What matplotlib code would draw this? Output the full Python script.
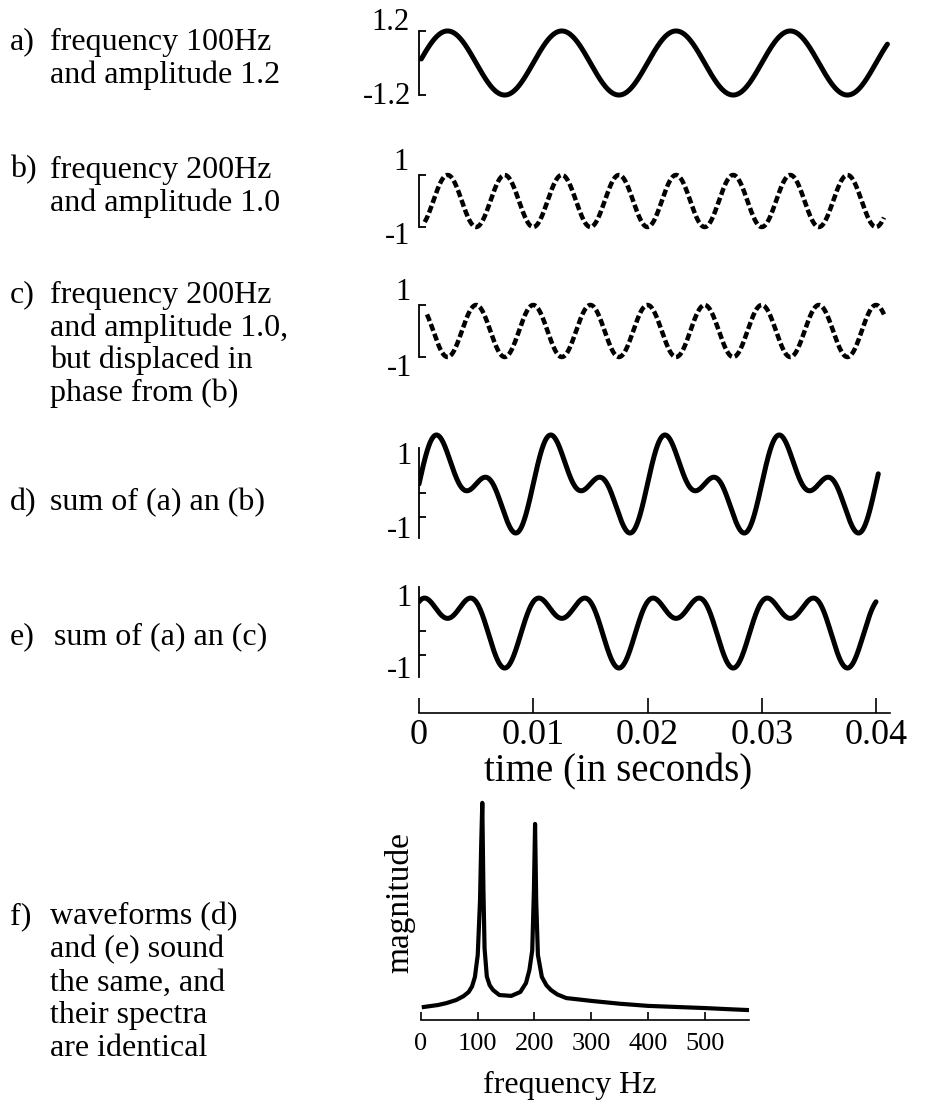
import numpy as np
import matplotlib.pyplot as plt

plt.rcParams['font.family'] = ['Liberation Serif', 'DejaVu Serif']

# ---------------- data ----------------
# each waveform panel: list of sinusoid components (frequency Hz, amplitude, phase deg)
wave_a = [(100, 1.2, 0)]
wave_b = [(200, 1.0, -90)]
wave_c = [(200, 1.0, 90)]
wave_d = [(100, 1.2, 0), (200, 1.0, 0)]
wave_e = [(100, 1.2, 0), (200, 1.0, 90)]
waves = [wave_a, wave_b, wave_c, wave_d, wave_e]

# time span drawn in each panel (s)
t_start = [0.0002, 0.0005, 0.0007, 0.0, 0.0]
t_end = [0.0410, 0.0407, 0.0407, 0.0402, 0.0400]

time_ticks = [0, 0.01, 0.02, 0.03, 0.04]
time_ticklabels = ['0', '0.01', '0.02', '0.03', '0.04']

# spectrum of (d)/(e), magnitude normalised to the 100 Hz peak
spec_freq = [5, 30, 45, 62, 75, 84, 90, 95, 100, 104, 106, 108, 110, 112, 116, 121, 127,
             138, 159, 175, 185, 191, 196, 199, 201, 203, 206, 213, 221, 229, 240, 256,
             280, 300, 350, 400, 450, 500, 540, 575]
spec_mag = [0.060, 0.069, 0.078, 0.092, 0.110, 0.129, 0.155, 0.198, 0.300, 0.550, 0.800,
            1.000, 0.600, 0.330, 0.200, 0.160, 0.138, 0.115, 0.111, 0.129, 0.170, 0.230,
            0.320, 0.600, 0.903, 0.550, 0.300, 0.198, 0.160, 0.138, 0.118, 0.101, 0.094,
            0.088, 0.075, 0.065, 0.060, 0.055, 0.050, 0.046]
freq_ticks = [0, 100, 200, 300, 400, 500]

letters = ['a)', 'b)', 'c)', 'd)', 'e)', 'f)']
captions = [
    ['frequency 100Hz', 'and amplitude 1.2'],
    ['frequency 200Hz', 'and amplitude 1.0'],
    ['frequency 200Hz', 'and amplitude 1.0,', 'but displaced in', 'phase from (b)'],
    ['sum of (a) an (b)'],
    ['sum of (a) an (c)'],
    ['waveforms (d)', 'and (e) sound', 'the same, and', 'their spectra', 'are identical'],
]

# ---------------- layout (pixels) ----------------
W, H = 939, 1113
fig = plt.figure(figsize=(W / 100, H / 100), dpi=100)


def px_axes(left, top, width, height):
    return fig.add_axes([left / W, 1 - (top + height) / H, width / W, height / H])


def px_text(x, y, s, **kw):
    return fig.text(x / W, 1 - y / H, s, **kw)


T0_PX = 419
PX_PER_S = 11425
TMAX = 0.0415

# zero line (px), px per unit, y half-range
panel_geom = [(63, 26.7, 1.5), (201, 26, 1.3), (331, 26, 1.3), (484, 25.5, 2.3), (622.5, 20.7, 2.8)]
# left axis: (lower bound, upper bound, tick values)
panel_axis = [(-1.2, 1.2, [-1.2, 1.2]), (-1, 1, [-1, 1]), (-1, 1, [-1, 1]),
              (-2.12, 1.41, [-0.35, -1.29]), (-2.63, 1.71, [-0.41, -1.57])]
# y-axis labels: (text, right x px, centre y px)
panel_labels = [[('1.2', 410, 22), ('-1.2', 411, 96)],
                [('1', 409, 162), ('-1', 410, 236)],
                [('1', 411, 292), ('-1', 412, 368)],
                [('1', 412, 457), ('-1', 412, 530)],
                [('1', 412, 598), ('-1', 412, 670)]]

LW = 3.6
for i, comps in enumerate(waves):
    y0, s, hr = panel_geom[i]
    ax = px_axes(T0_PX, y0 - hr * s, TMAX * PX_PER_S, 2 * hr * s)
    t = np.linspace(t_start[i], t_end[i], 3000)
    y = np.zeros_like(t)
    for f, a, ph in comps:
        y += a * np.sin(2 * np.pi * f * t + np.deg2rad(ph))
    if i in (1, 2):
        ax.plot(t, y, color='black', lw=LW * 0.9, linestyle=(0, (1.6, 0.7)),
                solid_capstyle='butt', dash_capstyle='butt')
    else:
        ax.plot(t, y, color='black', lw=LW, solid_capstyle='round')
    ax.set_xlim(0, TMAX)
    ax.set_ylim(-hr, hr)
    for sp in ['top', 'right', 'bottom']:
        ax.spines[sp].set_visible(False)
    lo, hi, ticks = panel_axis[i]
    ax.spines['left'].set_bounds(lo, hi)
    ax.spines['left'].set_linewidth(1.3)
    ax.set_xticks([])
    ax.set_yticks(ticks)
    ax.tick_params(axis='y', direction='in', length=5, width=1.3, labelleft=False)
    ax.patch.set_visible(False)
    for txt, xr, yc in panel_labels[i]:
        px_text(xr, yc, txt, ha='right', va='center', fontsize=22)

# time axis
tax = px_axes(T0_PX, 690, TMAX * PX_PER_S, 23)
tax.set_xlim(0, TMAX)
tax.set_ylim(0, 1)
for sp in ['top', 'right', 'left']:
    tax.spines[sp].set_visible(False)
tax.spines['bottom'].set_bounds(0, 0.0412)
tax.spines['bottom'].set_linewidth(1.2)
tax.set_yticks([])
tax.set_xticks(time_ticks)
tax.set_xticklabels(time_ticklabels)
tax.tick_params(axis='x', direction='in', length=11, width=1.2, labelsize=26, pad=4)
tax.patch.set_visible(False)
px_text(618, 772, 'time (in seconds)', ha='center', va='center', fontsize=28)

# spectrum
FMAX = 578
sax = px_axes(421, 792, 328, 228)
sax.plot(spec_freq, spec_mag, color='black', lw=3.0, solid_joinstyle='round')
sax.set_xlim(0, FMAX)
sax.set_ylim(0, 1.05)
for sp in ['top', 'right', 'left']:
    sax.spines[sp].set_visible(False)
sax.spines['bottom'].set_linewidth(1.2)
sax.set_yticks([])
sax.set_xticks(freq_ticks)
sax.tick_params(axis='x', direction='in', length=6, width=1.2, labelsize=19, pad=9)
sax.patch.set_visible(False)
px_text(570, 1085, 'frequency Hz', ha='center', va='center', fontsize=23)
px_text(400, 903, 'magnitude', ha='center', va='center', fontsize=24, rotation=90)

# captions on the left
caption_y = [[42, 75], [170, 203], [295, 328, 360, 393], [503], [637],
             [917, 950, 983, 1015, 1048]]
caption_x = [50, 50, 50, 50, 54, 50]
for letter, lines, ys, xc in zip(letters, captions, caption_y, caption_x):
    px_text(10, ys[0], letter, ha='left', va='center', fontsize=23)
    for line, yc in zip(lines, ys):
        px_text(xc, yc, line, ha='left', va='center', fontsize=23)

fig.savefig('out.png', dpi=100)
